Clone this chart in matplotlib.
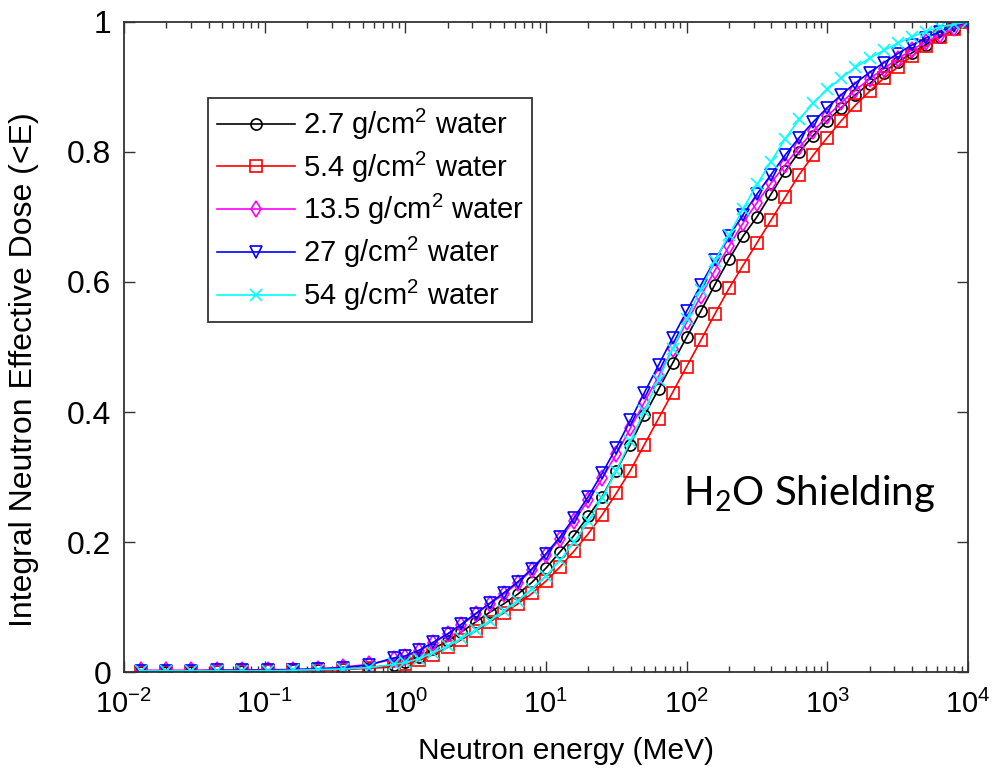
import matplotlib
matplotlib.use("Agg")
import matplotlib.pyplot as plt
import numpy as np
from matplotlib.ticker import LogLocator, NullFormatter, FixedLocator, LogFormatterSciNotation

plt.rcParams['font.family'] = ['Liberation Sans', 'DejaVu Sans']

# Energy grid (MeV): sparse below 1 MeV, denser above
energy = [0.0132, 0.0200, 0.0302, 0.0457, 0.0692, 0.105, 0.158, 0.240, 0.363, 0.550, 0.832,
          1.00, 1.26, 1.58, 2.00, 2.51, 3.16, 3.98, 5.01, 6.31, 7.94,
          10.0, 12.6, 15.8, 20.0, 25.1, 31.6, 39.8, 50.1, 63.1, 79.4,
          100, 126, 158, 200, 251, 316, 398, 501, 631, 794,
          1000, 1259, 1585, 1995, 2512, 3162, 3981, 5012, 6310, 7943, 10000]

x_ticks = [1e-2, 1e-1, 1e0, 1e1, 1e2, 1e3, 1e4]
y_ticks = [0, 0.2, 0.4, 0.6, 0.8, 1.0]
y_tick_labels = ['0', '0.2', '0.4', '0.6', '0.8', '1']

# Integral neutron effective dose fraction (<E) for each water thickness
dose_2p7 = [0.001, 0.001, 0.001, 0.002, 0.002, 0.003, 0.003, 0.004, 0.005, 0.007, 0.011,
            0.016, 0.024, 0.036, 0.048, 0.062, 0.077, 0.092, 0.105, 0.120, 0.138,
            0.160, 0.185, 0.210, 0.240, 0.270, 0.310, 0.350, 0.395, 0.435, 0.475,
            0.515, 0.555, 0.595, 0.635, 0.670, 0.700, 0.735, 0.770, 0.800, 0.825,
            0.848, 0.868, 0.888, 0.905, 0.922, 0.938, 0.952, 0.965, 0.977, 0.989, 1.000]
dose_5p4 = [0.001, 0.001, 0.001, 0.001, 0.002, 0.002, 0.003, 0.003, 0.004, 0.006, 0.008,
            0.012, 0.018, 0.027, 0.038, 0.050, 0.063, 0.077, 0.091, 0.105, 0.121,
            0.140, 0.162, 0.186, 0.213, 0.242, 0.275, 0.310, 0.350, 0.390, 0.430,
            0.470, 0.510, 0.550, 0.590, 0.625, 0.660, 0.695, 0.730, 0.765, 0.795,
            0.822, 0.848, 0.872, 0.893, 0.913, 0.930, 0.947, 0.962, 0.976, 0.989, 1.000]
dose_13p5 = [0.003, 0.003, 0.003, 0.003, 0.003, 0.004, 0.004, 0.005, 0.008, 0.012, 0.020,
             0.024, 0.033, 0.045, 0.058, 0.073, 0.089, 0.105, 0.120, 0.137, 0.157,
             0.180, 0.205, 0.233, 0.264, 0.298, 0.335, 0.375, 0.415, 0.455, 0.497,
             0.538, 0.578, 0.617, 0.655, 0.690, 0.722, 0.752, 0.780, 0.807, 0.832,
             0.855, 0.876, 0.895, 0.912, 0.928, 0.943, 0.957, 0.969, 0.980, 0.990, 1.000]
dose_27 = [0.002, 0.002, 0.002, 0.003, 0.003, 0.003, 0.004, 0.005, 0.007, 0.011, 0.022,
           0.025, 0.034, 0.046, 0.059, 0.074, 0.090, 0.106, 0.122, 0.139, 0.159,
           0.182, 0.208, 0.237, 0.270, 0.306, 0.345, 0.387, 0.430, 0.472, 0.514,
           0.555, 0.595, 0.633, 0.670, 0.703, 0.735, 0.765, 0.795, 0.822, 0.846,
           0.868, 0.888, 0.906, 0.922, 0.937, 0.951, 0.964, 0.975, 0.985, 0.993, 1.000]
dose_54 = [0.002, 0.002, 0.002, 0.002, 0.002, 0.002, 0.003, 0.004, 0.005, 0.007, 0.012,
           0.015, 0.021, 0.030, 0.040, 0.052, 0.065, 0.079, 0.094, 0.110, 0.128,
           0.148, 0.172, 0.200, 0.232, 0.268, 0.310, 0.355, 0.402, 0.450, 0.497,
           0.543, 0.588, 0.632, 0.672, 0.712, 0.750, 0.785, 0.820, 0.850, 0.875,
           0.896, 0.914, 0.930, 0.944, 0.956, 0.967, 0.977, 0.985, 0.992, 0.996, 1.000]

series = [
    (dose_2p7, r'2.7 g/cm$^{\mathdefault{2}}$ water', 'k', 'o'),
    (dose_5p4, r'5.4 g/cm$^{\mathdefault{2}}$ water', '#ff0000', 's'),
    (dose_13p5, r'13.5 g/cm$^{\mathdefault{2}}$ water', '#ff00ff', 'd'),
    (dose_27, r'27 g/cm$^{\mathdefault{2}}$ water', '#0000ff', 'v'),
    (dose_54, r'54 g/cm$^{\mathdefault{2}}$ water', '#00ffff', 'x'),
]

fig = plt.figure(figsize=(9.99, 7.78), dpi=100)
ax = fig.add_axes([0.124, 0.136, 0.845, 0.836])

for vals, label, color, marker in series:
    ax.plot(energy, vals, color=color, marker=marker, markersize=8,
            markerfacecolor='none', markeredgewidth=1.2, linewidth=1.2, label=label)

ax.set_xscale('log')
ax.set_xlim(1e-2, 1e4)
ax.set_ylim(0, 1)
ax.yaxis.set_major_locator(FixedLocator(y_ticks))
ax.set_yticklabels(y_tick_labels)
ax.xaxis.set_major_locator(FixedLocator(x_ticks))
ax.xaxis.set_major_formatter(LogFormatterSciNotation())
ax.xaxis.set_minor_locator(LogLocator(base=10, subs=np.arange(2, 10), numticks=20))
ax.xaxis.set_minor_formatter(NullFormatter())

ax.tick_params(which='both', direction='in', top=True, right=True,
               color='#333333', width=1.0)
ax.tick_params(which='major', length=8)
ax.tick_params(axis='x', labelsize=21, pad=13)
ax.tick_params(axis='y', labelsize=23, pad=9)
ax.tick_params(which='minor', length=4)
for sp in ax.spines.values():
    sp.set_linewidth(1.3)
    sp.set_color('#333333')

ax.set_xlabel('Neutron energy (MeV)', fontsize=21.5)
ax.set_ylabel('Integral Neutron Effective Dose (<E)', fontsize=23)
ax.xaxis.set_label_coords(0.524, -0.1)
ax.yaxis.set_label_coords(-0.1, 0.465)

leg = ax.legend(loc='upper left', bbox_to_anchor=(0.0994, 0.883), fontsize=21,
                frameon=True, fancybox=False, edgecolor='#333333', framealpha=1,
                handlelength=2.7, labelspacing=0.26, borderpad=0.3, handletextpad=0.25,
                borderaxespad=0)
leg.get_frame().set_linewidth(1.3)

ax.text(0.662, 0.257, r'H$_{\mathdefault{2}}$O Shielding', transform=ax.transAxes,
        fontsize=29, family='Lato', ha='left', va='baseline')

fig.savefig('out.png', dpi=100)
